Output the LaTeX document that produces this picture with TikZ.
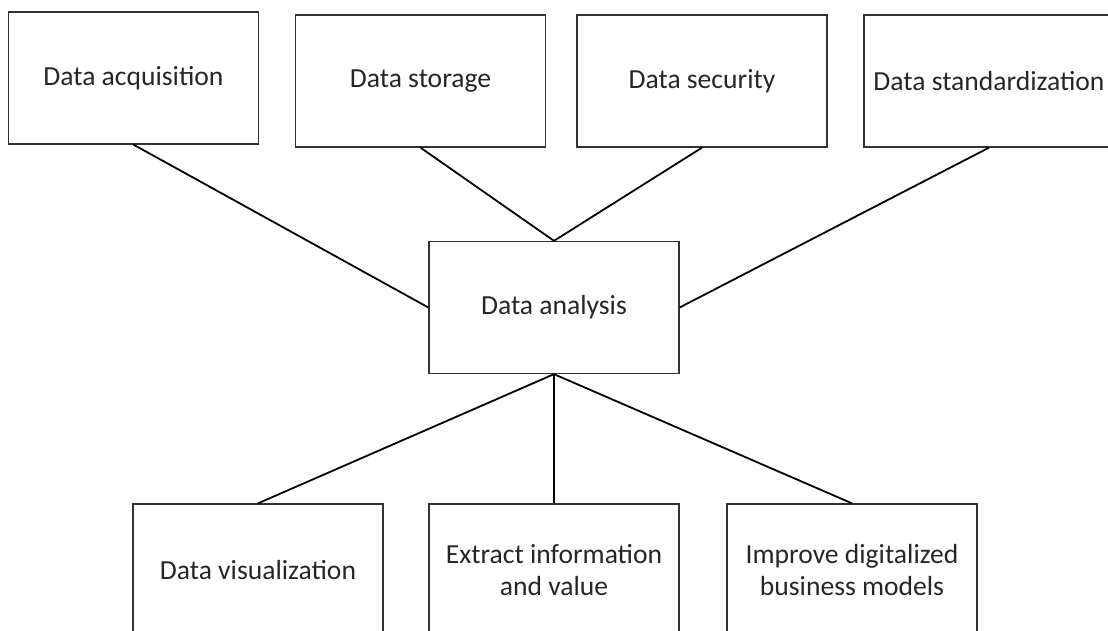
\documentclass[tikz,border=0pt]{standalone}
\usepackage{fontspec}
\setmainfont{Carlito}
\usepackage{tikz}

\begin{document}
\begin{tikzpicture}[x=1bp,y=1bp]
              \tikzstyle{every node}+=[inner sep=0pt]
              \tikzstyle{blockbox}=[draw=black!80, line width=1.3bp, minimum width=250bp, minimum height=132bp, align=center, text=black!85, font=\fontsize{27.7}{33}\selectfont]
              \tikzstyle{link}=[black, line width=1.8bp]
              \useasboundingbox (0,0) rectangle (1108,-631);
              \clip (0,0) rectangle (1108,-631);
              % top row
              \node [blockbox] (acq) at (133.5,-78) {Data acquisition};
              \node [blockbox] (sto) at (420.5,-81) {Data storage};
              \node [blockbox] (sec) at (702,-81) {Data security};
              \node [blockbox] (std) at (989,-81) {Data standardization};
              % centre
              \node [blockbox] (ana) at (554,-307.5) {Data analysis};
              % bottom row
              \node [blockbox] (vis) at (258,-570) {Data visualization};
              \node [blockbox] (ext) at (554,-570) {Extract information\\and value};
              \node [blockbox] (imp) at (852,-570) {Improve digitalized\\business models};
              % links
              \draw [link] (acq.south) -- (ana.west);
              \draw [link] (sto.south) -- (ana.north);
              \draw [link] (sec.south) -- (ana.north);
              \draw [link] (std.south) -- (ana.east);
              \draw [link] (ana.south) -- (vis.north);
              \draw [link] (ana.south) -- (ext.north);
              \draw [link] (ana.south) -- (imp.north);
            \end{tikzpicture}
\end{document}
